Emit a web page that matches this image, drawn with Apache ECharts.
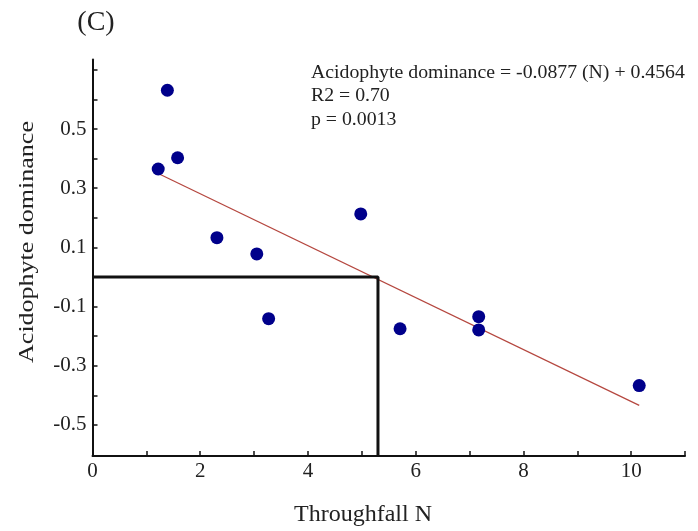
<!DOCTYPE html>
<html><head><meta charset="utf-8">
<script src="https://cdn.jsdelivr.net/npm/echarts@6/dist/echarts.min.js"></script>
<style>html,body{margin:0;padding:0;background:#fff}#c{width:698px;height:531px}</style>
</head><body><div id="c"></div>
<script>
// Observed points (Throughfall N, Acidophyte dominance)
const nValues = [1.39, 1.58, 1.22, 2.31, 3.05, 3.27, 4.98, 5.71, 7.17, 7.17, 10.15];
const domValues = [0.631, 0.403, 0.365, 0.133, 0.078, -0.141, 0.213, -0.175, -0.134, -0.179, -0.367];
// Fitted line as drawn (end points)
const trendX = [1.22, 10.15];
const trendY = [0.35, -0.434];
// Reference drop lines (x-intercept marker)
const dropX = [0, 5.3, 5.3];
const dropY = [0, 0, -0.605];
// Axis ticks and labels
const xTickValues = [0,1,2,3,4,5,6,7,8,9,10,11];
const xLabelValues = [0,2,4,6,8,10];
const yTickValues = [-0.5,-0.4,-0.3,-0.2,-0.1,0,0.1,0.2,0.3,0.4,0.5,0.6,0.7];
const yLabelValues = [-0.5,-0.3,-0.1,0.1,0.3,0.5];
const eqLines = ['Acidophyte dominance = -0.0877 (N) + 0.4564', 'R2 = 0.70', 'p = 0.0013'];

const FONT = '"Liberation Serif", "Times New Roman", serif';
const chart = echarts.init(document.getElementById('c'));
chart.setOption({
  animation: false,
  backgroundColor: '#fff',
  grid: {left: 92.5, right: 13, top: 59.5, bottom: 75, containLabel: false},
  xAxis: {
    type: 'value', min: 0, max: 11,
    axisLine: {show: true, onZero: false, lineStyle: {color: '#111', width: 2}},
    axisTick: {show: true, inside: true, length: 5, customValues: xTickValues, lineStyle: {color: '#111', width: 1.5}},
    axisLabel: {customValues: xLabelValues, fontFamily: FONT, fontSize: 21, color: '#222', margin: 5},
    splitLine: {show: false}
  },
  yAxis: {
    type: 'value', min: -0.605, max: 0.735,
    axisLine: {show: true, onZero: false, lineStyle: {color: '#111', width: 2}},
    axisTick: {show: true, inside: true, length: 5, customValues: yTickValues, lineStyle: {color: '#111', width: 1.5}},
    axisLabel: {customValues: yLabelValues, fontFamily: FONT, fontSize: 21, color: '#222', margin: 6,
      formatter: v => (Math.round(v * 10) / 10).toFixed(1)},
    splitLine: {show: false}
  },
  graphic: [
    {type: 'text', x: 96, y: 23, style: {text: '(C)', font: '28px ' + FONT, fill: '#222', align: 'center', verticalAlign: 'middle'}},
    {type: 'text', left: 311, top: 61, style: {text: eqLines.join('\n'), font: '19.8px ' + FONT, lineHeight: 23.5, fill: '#222'}},
    {type: 'text', x: 363, y: 515, style: {text: 'Throughfall N', font: '24px ' + FONT, fill: '#222', align: 'center', verticalAlign: 'middle'}},
    {type: 'text', x: 28, y: 242, rotation: Math.PI / 2, scaleX: 1.3, style: {text: 'Acidophyte dominance', font: '20px ' + FONT, fill: '#222', align: 'center', verticalAlign: 'middle'}}
  ],
  series: [
    {type: 'line', data: trendX.map((x, i) => [x, trendY[i]]), symbol: 'none',
      lineStyle: {color: '#b5473f', width: 1.2}, z: 2},
    {type: 'line', data: dropX.map((x, i) => [x, dropY[i]]), symbol: 'none',
      lineStyle: {color: '#111', width: 3}, z: 3},
    {type: 'scatter', data: nValues.map((x, i) => [x, domValues[i]]), symbol: 'circle', symbolSize: 13,
      itemStyle: {color: '#00008b', opacity: 1}, z: 4}
  ]
});
</script></body></html>
